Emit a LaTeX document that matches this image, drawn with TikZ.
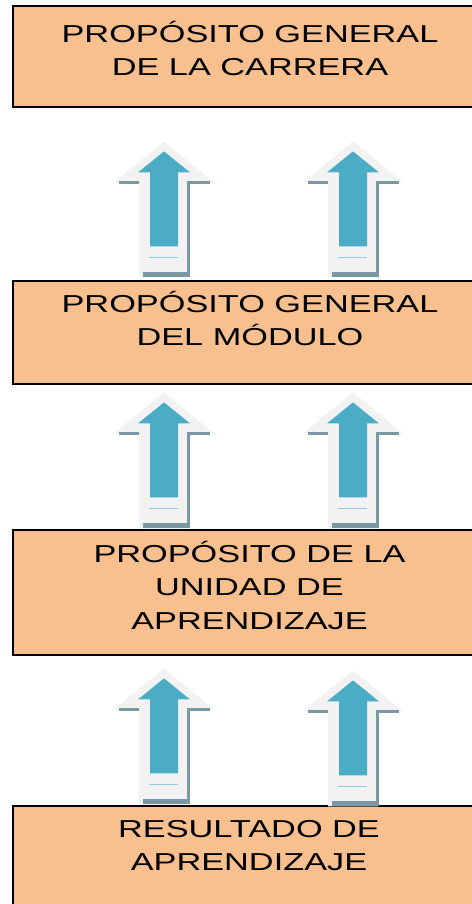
\documentclass[tikz,border=0pt]{standalone}
\usepackage{fontspec}
\usepackage{tikz}
\usetikzlibrary{calc}
\newfontfamily\stagefont[FakeStretch=1.4]{Liberation Sans}
\definecolor{stageorange}{RGB}{249,192,143}
\definecolor{liftblue}{RGB}{75,172,198}
\definecolor{liftwhite}{RGB}{242,242,242}
\definecolor{liftshade}{RGB}{122,152,162}
\definecolor{liftline}{RGB}{150,205,220}
\tikzset{
	stage/.style={draw=black, line width=1.2pt, fill=stageorange, minimum width=474pt, inner sep=0pt},
	stagetext/.style={anchor=base, inner sep=0pt, font=\stagefont\fontsize{24.5}{33.5}\selectfont}
}
\def\liftarrow(#1){
	\begin{scope}[shift={(#1)}]
		\fill[liftwhite] (0, -136) -- (50, -95) -- (25, -95) -- (25, 0) -- (-25, 0) -- (-25, -95) -- (-50, -95) -- cycle;
		\fill[liftshade] (-45, -96) rectangle (-25, -93);
		\fill[liftshade] (23, -96) rectangle (46, -93);
		\fill[liftshade] (23, -93) rectangle (26, 0);
		\fill[liftshade] (-21, -5) rectangle (26, 0);
		\fill[liftblue] (0, -126) -- (26, -105) -- (14, -105) -- (14, -31) -- (-14, -31) -- (-14, -105) -- (-26, -105) -- cycle;
		\draw[line width=1pt, liftline] (-15, -20) -- (14, -20);
	\end{scope}
}

\begin{document}
\begin{tikzpicture}[x=1pt, y=-1pt]
			%%%%% START %%%%%
			\useasboundingbox (0, 0) rectangle (471, 904);
			
			\node[stage, minimum height=101pt] (carrera) at (250, 56.5) {};
			\node[stage, minimum height=103pt] (modulo) at (250, 332.5) {};
			\node[stage, minimum height=125pt] (unidad) at (250, 592.5) {};
			\node[stage, minimum height=100pt] (resultado) at (250, 856) {};
			
			\node[stagetext] (carrera-txt) at ([yshift=-37pt]carrera.north) {\parbox[t]{460pt}{\centering PROPÓSITO GENERAL\\DE LA CARRERA}};
			\node[stagetext] (modulo-txt) at ([yshift=-32pt]modulo.north) {\parbox[t]{460pt}{\centering PROPÓSITO GENERAL\\DEL MÓDULO}};
			\node[stagetext] (unidad-txt) at ([xshift=-0.5pt, yshift=-33pt]unidad.north) {\parbox[t]{460pt}{\centering PROPÓSITO DE LA\\UNIDAD\ DE\\APRENDIZAJE}};
			\node[stagetext] (resultado-txt) at ([xshift=-1pt, yshift=-32pt]resultado.north) {\parbox[t]{460pt}{\centering RESULTADO DE\\APRENDIZAJE}};
			
			% arrows, bottom on the lower box
			\liftarrow([xshift=-86pt, yshift=3pt]modulo.north)
			\liftarrow([xshift=103pt, yshift=3pt]modulo.north)
			\liftarrow([xshift=-86pt, yshift=1pt]unidad.north)
			\liftarrow([xshift=103pt, yshift=1pt]unidad.north)
			\liftarrow([xshift=-86pt, yshift=1pt]resultado.north)
			\liftarrow([xshift=103pt, yshift=-1pt]resultado.north)
			
			%%%%% END %%%%%
		\end{tikzpicture}
\end{document}
